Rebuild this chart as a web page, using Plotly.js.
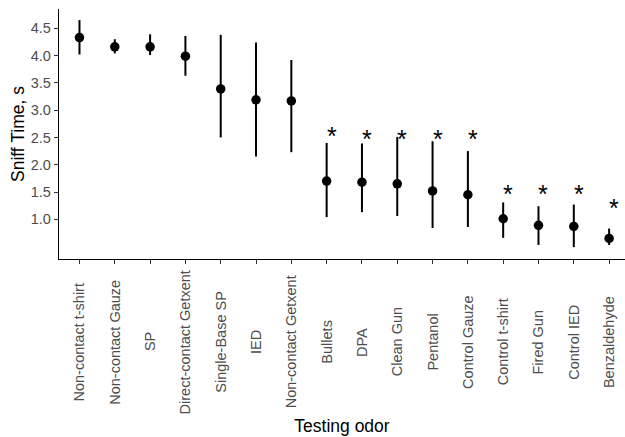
<!DOCTYPE html>
<html>
<head>
<meta charset="utf-8">
<script src="https://cdn.plot.ly/plotly-3.0.1.min.js"></script>
<style>html,body{margin:0;padding:0;background:#fff;}</style>
</head>
<body>
<div id="chart" style="width:625px;height:437px;"></div>
<script>
const categories = ["Non-contact t-shirt","Non-contact Gauze","SP","Direct-contact Getxent","Single-Base SP","IED","Non-contact Getxent","Bullets","DPA","Clean Gun","Pentanol","Control Gauze","Control t-shirt","Fired Gun","Control IED","Benzaldehyde"];
const meanTime = [4.33,4.16,4.16,3.99,3.39,3.19,3.17,1.70,1.68,1.65,1.52,1.45,1.01,0.89,0.87,0.65];
const lowerTime = [4.02,4.04,4.01,3.63,2.50,2.15,2.23,1.04,1.13,1.06,0.84,0.86,0.66,0.53,0.49,0.53];
const upperTime = [4.65,4.30,4.39,4.36,4.38,4.24,3.92,2.40,2.39,2.51,2.43,2.25,1.31,1.24,1.27,0.83];
const starCategories = ["Bullets","DPA","Clean Gun","Pentanol","Control Gauze","Control t-shirt","Fired Gun","Control IED","Benzaldehyde"];
const starY = [2.64,2.58,2.58,2.58,2.58,1.58,1.57,1.57,1.32];
const yTicks = [1.0,1.5,2.0,2.5,3.0,3.5,4.0,4.5];

const font = '"Liberation Sans", Arial, sans-serif';

const trace = {
  type: 'scatter',
  mode: 'markers',
  x: categories,
  y: meanTime,
  marker: {color: '#000', size: 9.5},
  error_y: {
    type: 'data',
    symmetric: false,
    array: upperTime.map((u, i) => u - meanTime[i]),
    arrayminus: lowerTime.map((l, i) => meanTime[i] - l),
    width: 0,
    thickness: 2,
    color: '#000'
  },
  hoverinfo: 'x+y',
  showlegend: false
};

const starAnnotations = starCategories.map((c, i) => ({
  x: c, y: starY[i], xref: 'x', yref: 'y',
  text: '*', showarrow: false,
  font: {family: font, size: 25, color: '#000'},
  xshift: 5, yshift: -6
}));

// category labels, rotated and centred under each tick
const labelAnnotations = categories.map(c => ({
  x: c, y: 0, xref: 'x', yref: 'paper',
  text: c, showarrow: false, textangle: -90,
  xanchor: 'center', yanchor: 'middle',
  yshift: -83,
  font: {family: font, size: 14.5, color: '#4D4D4D'}
}));

const layout = {
  width: 625, height: 437,
  margin: {l: 59, r: 0, t: 9, b: 178, pad: 0},
  paper_bgcolor: '#fff', plot_bgcolor: '#fff',
  font: {family: font},
  showlegend: false,
  xaxis: {
    type: 'category',
    range: [-0.58, 15.45],
    showgrid: false, zeroline: false,
    showline: true, linecolor: '#000', linewidth: 1.3,
    ticks: 'outside', ticklen: 4, tickcolor: '#333', tickwidth: 1,
    showticklabels: false,
    title: {text: 'Testing odor', font: {family: font, size: 17.5, color: '#000'}, standoff: 156},
    automargin: false
  },
  yaxis: {
    range: [0.2725, 4.854],
    tickvals: yTicks,
    ticktext: yTicks.map(v => v.toFixed(1)),
    showgrid: false, zeroline: false,
    showline: true, linecolor: '#000', linewidth: 1.3,
    ticks: 'outside', ticklen: 4, tickcolor: '#333', tickwidth: 1,
    tickfont: {family: font, size: 14.5, color: '#4D4D4D'},
    title: {text: 'Sniff Time, s', font: {family: font, size: 17.5, color: '#000'}, standoff: 1},
    automargin: false
  },
  annotations: starAnnotations.concat(labelAnnotations)
};

Plotly.newPlot('chart', [trace], layout, {displayModeBar: false, staticPlot: true});
</script>
</body>
</html>
